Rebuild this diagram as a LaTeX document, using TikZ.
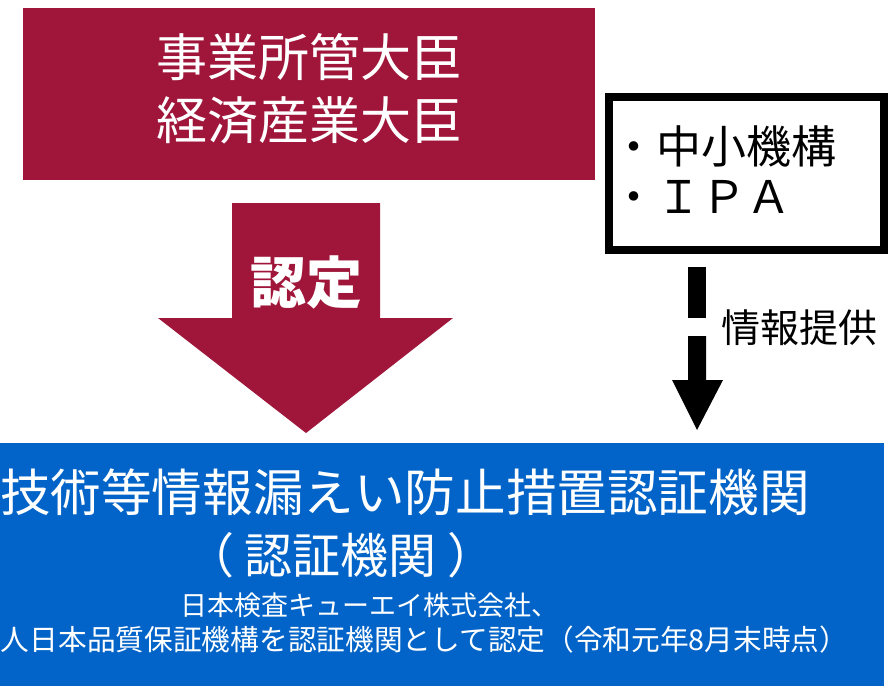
\documentclass[tikz,border=0pt]{standalone}
\usepackage{fontspec}
\setmainfont{Noto Sans CJK JP}
\definecolor{crimson}{RGB}{160,22,58}
\definecolor{cblue}{RGB}{2,100,200}
\begin{document}
\begin{tikzpicture}[x=1pt,y=-1pt,
  every node/.style={inner sep=0pt, outer sep=0pt},
  panel/.style={anchor=north west},
  wtext/.style={text=white},
  blockarrow/.style={fill=crimson, draw=none}]
\useasboundingbox (0,0) rectangle (890,686);
% blue certification body panel
\node[panel, fill=cblue, minimum width=884pt, minimum height=243pt] (cert) at (0,443) {};
% ministers panel
\node[panel, fill=crimson, minimum width=572pt, minimum height=172pt] (minister) at (23,8) {};
\node[wtext, align=center, font=\fontsize{51}{63}\selectfont] (mintext) at (309,88.5) {事業所管大臣\\経済産業大臣};
% organisations box
\node[panel, draw=black, line width=8pt, minimum width=275pt, minimum height=153pt] (org) at (609,97) {};
\node[anchor=west, align=left, font=\fontsize{45}{50}\selectfont] (orgtext) at (611,170) {・中小機構\\・ＩＰＡ};
% black info arrow
\fill[black] (688,267) rectangle (706,318);
\fill[black] (688,336) -- (706,336) -- (706,380) -- (723,380) -- (697,430) -- (672,380) -- (688,380) -- cycle;
\node[anchor=west, font=\fontsize{39}{39}\selectfont] (infolabel) at (721,328) {情報提供};
% crimson certification arrow
\fill[blockarrow] (232,203) -- (380,203) -- (380,318) -- (453,318) -- (306,433) -- (158,318) -- (232,318) -- cycle;
\node[wtext, font=\bfseries\fontsize{56}{56}\selectfont] (nintei) at (306,282) {認定};
% texts in blue panel
\node[wtext, anchor=west, font=\fontsize{50.6}{51}\selectfont] (t1) at (0,492) {技術等情報漏えい防止措置認証機関};
\node[wtext, anchor=west, font=\fontsize{48}{48}\selectfont] (t2) at (186,555) {（ 認証機関 ）};
\node[wtext, anchor=west, font=\fontsize{27}{27}\selectfont] (t3) at (180,605) {日本検査キューエイ株式会社、};
\node[wtext, anchor=west, font=\fontsize{28.7}{29}\selectfont] (t4) at (1,640) {人日本品質保証機構を認証機関として認定（令和元年8月末時点）};
\end{tikzpicture}
\end{document}
